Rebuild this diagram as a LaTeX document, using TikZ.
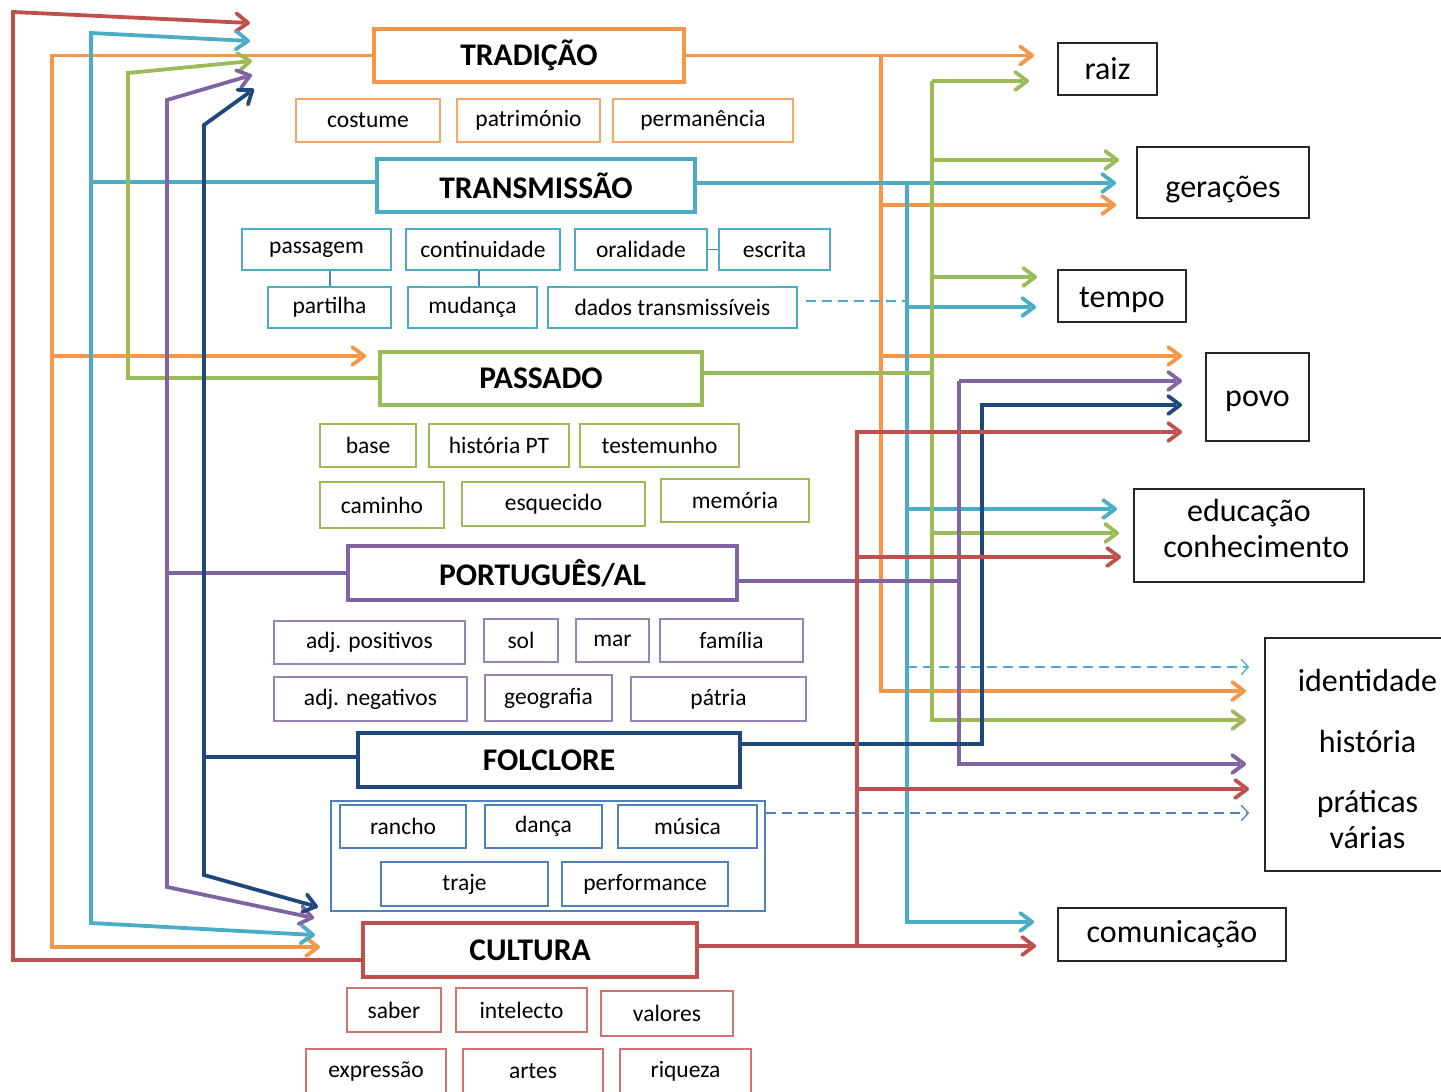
\documentclass[tikz,border=0pt]{standalone}
\usepackage{fontspec}
\setmainfont{Carlito}
\usetikzlibrary{arrows.meta}
\definecolor{cO}{HTML}{F79646}
\definecolor{cB}{HTML}{4BACC6}
\definecolor{cG}{HTML}{9BBB59}
\definecolor{cP}{HTML}{8064A2}
\definecolor{cN}{HTML}{1F497D}
\definecolor{cR}{HTML}{C0504D}
\definecolor{cF}{HTML}{4F81BD}
\newcommand\titlef{\fontsize{31.5}{36}\selectfont\bfseries}
\newcommand\subf{\fontsize{23.5}{28}\selectfont}
\newcommand\bigf{\fontsize{32}{36}\selectfont}
\pgfdeclarearrow{
  name = Chev,
  parameters = {\the\pgfarrowlength,\the\pgfarrowwidth,\the\pgfarrowlinewidth},
  setup code = {
    \pgfarrowssettipend{.5\pgfarrowlinewidth}
    \pgfarrowssetlineend{-\pgfarrowlinewidth}
    \pgfarrowssetbackend{-\pgfarrowlength}
    \pgfarrowssavethe\pgfarrowlength
    \pgfarrowssavethe\pgfarrowwidth
    \pgfarrowssavethe\pgfarrowlinewidth
  },
  drawing code = {
    \pgfsetdash{}{+0pt}
    \pgfsetroundcap
    \pgfsetroundjoin
    \pgfsetlinewidth{\pgfarrowlinewidth}
    \pgfpathmoveto{\pgfqpoint{-\pgfarrowlength}{.5\pgfarrowwidth}}
    \pgfpathlineto{\pgfpointorigin}
    \pgfpathlineto{\pgfqpoint{-\pgfarrowlength}{-.5\pgfarrowwidth}}
    \pgfusepathqstroke
  },
  defaults = {length=13pt, width=18pt, line width=+0pt 1}
}
\begin{document}
\begin{tikzpicture}[x=1pt,y=-1pt,
  >={Chev[length=12pt,width=18pt]},
  mb/.style={draw=#1, line width=3.8pt, inner sep=0pt, font=\titlef, minimum height=53},
  sb/.style={draw=#1, line width=1.5pt, inner sep=0pt, font=\subf},
  rb/.style={draw=black!85, line width=1.8pt, inner sep=0pt, font=\bigf, align=center},
  conn/.style={draw=#1, line width=3.8pt},
  thinl/.style={draw=#1, line width=1.3pt},
  dash/.style={draw=#1, line width=1.3pt, dash pattern=on 10pt off 6pt},
  thinarr/.style={-{Chev[length=7pt,width=15pt]}}
]
\useasboundingbox (0,0) rectangle (1441,1092);
\clip (0,0) rectangle (1441,1092);

% ---------- main boxes ----------
\node[mb=cO, minimum width=310] (trad) at (529,55.5) {TRADIÇÃO};
\node[mb=cB, minimum width=318] (trans) at (536,185.5) {TRANSMISSÃO};
\node[mb=cG, minimum width=322] (pass) at (541,378.5) {PASSADO};
\node[mb=cP, minimum width=389, minimum height=54] (port) at (542.5,573) {PORTUGUÊS/AL};
\node[mb=cN, minimum width=382, minimum height=54] (folc) at (549,760) {FOLCLORE};
\node[mb=cR, minimum width=334, minimum height=54] (cult) at (530,950) {CULTURA};

% ---------- sub boxes ----------
\node[sb=cO!85, minimum width=144, minimum height=43] (costume) at (368,120.5) {costume};
\node[sb=cO!85, minimum width=143, minimum height=43] (patrim) at (528.5,120.5) {património};
\node[sb=cO!85, minimum width=180, minimum height=43] (perman) at (703,120.5) {permanência};

\node[sb=cB, minimum width=149, minimum height=41] (passagem) at (316.5,249.5) {passagem};
\node[sb=cB, minimum width=154, minimum height=41] (contin) at (483,249.5) {continuidade};
\node[sb=cB, minimum width=132, minimum height=41] (oral) at (641,249.5) {oralidade};
\node[sb=cB, minimum width=111, minimum height=41] (escrita) at (774.5,249.5) {escrita};
\node[sb=cB, minimum width=123, minimum height=41] (partilha) at (329.5,307.5) {partilha};
\node[sb=cB, minimum width=129, minimum height=41] (mudanca) at (472.5,307.5) {mudança};
\node[sb=cB, minimum width=249, minimum height=41] (dados) at (672.5,307.5) {dados transmissíveis};

\node[sb=cG, minimum width=96, minimum height=43] (base) at (368,445.5) {base};
\node[sb=cG, minimum width=140, minimum height=43] (histpt) at (499,445.5) {história PT};
\node[sb=cG, minimum width=159, minimum height=43] (testem) at (659.5,445.5) {testemunho};
\node[sb=cG, minimum width=124, minimum height=46] (caminho) at (382,505) {caminho};
\node[sb=cG, minimum width=183, minimum height=44] (esquec) at (553.5,504) {esquecido};
\node[sb=cG, minimum width=148, minimum height=43] (memoria) at (735,500.5) {memória};

\node[sb=cP!80, minimum width=191, minimum height=43] (adjpos) at (369.5,642.5) {adj. positivos};
\node[sb=cP!80, minimum width=74, minimum height=43] (sol) at (521,640.5) {sol};
\node[sb=cP!80, minimum width=73, minimum height=43] (mar) at (612.5,640.5) {mar};
\node[sb=cP!80, minimum width=143, minimum height=43] (familia) at (731.5,640.5) {família};
\node[sb=cP!80, minimum width=193, minimum height=44] (adjneg) at (370.5,699) {adj. negativos};
\node[sb=cP!80, minimum width=127, minimum height=46] (geog) at (548.5,698) {geografia};
\node[sb=cP!80, minimum width=175, minimum height=44] (patria) at (718.5,699) {pátria};

\node[sb=cF, minimum width=434, minimum height=110] (cont) at (548,856) {};
\node[sb=cF, minimum width=126, minimum height=43] (rancho) at (403,826.5) {rancho};
\node[sb=cF, minimum width=117, minimum height=43] (danca) at (543.5,826.5) {dança};
\node[sb=cF, minimum width=139, minimum height=43] (musica) at (687.5,826.5) {música};
\node[sb=cF, minimum width=167, minimum height=44] (traje) at (464.5,884) {traje};
\node[sb=cF, minimum width=166, minimum height=44] (perf) at (645,884) {performance};

\node[sb=cR!80, minimum width=94, minimum height=44] (saber) at (394,1010) {saber};
\node[sb=cR!80, minimum width=131, minimum height=44] (intel) at (521.5,1010) {intelecto};
\node[sb=cR!80, minimum width=132, minimum height=45] (valores) at (667,1013.5) {valores};
\node[sb=cR!80, minimum width=140, minimum height=45] (expr) at (376,1071.5) {expressão};
\node[sb=cR!80, minimum width=140, minimum height=45] (artes) at (533,1071.5) {artes};
\node[sb=cR!80, minimum width=131, minimum height=45] (riqueza) at (685.5,1071.5) {riqueza};

% ---------- right boxes ----------
\node[rb, minimum width=99, minimum height=52] (raiz) at (1107.5,69) {raiz};
\node[rb, minimum width=172, minimum height=71, text height=35pt] (ger) at (1223,182.5) {gerações};
\node[rb, minimum width=128, minimum height=52, text height=28pt] (tempo) at (1122,296) {tempo};
\node[rb, minimum width=103, minimum height=88, text height=24pt] (povo) at (1257.5,397) {povo};
\node[rb, minimum width=230, minimum height=93] (educ) at (1249,535.5) {educação\\\ \ conhecimento\\[-22pt]};
\node[rb, minimum width=205, minimum height=233] (ident) at (1367.5,754.5) {\mbox{}\\[-5pt]identidade\\[25pt]história\\[24pt]práticas\\[0pt]várias};
\node[rb, minimum width=228, minimum height=53] (comun) at (1172,934.5) {comunicação};

% ---------- small connectors ----------
\draw[thinl=cF] (passagem.south -| 330,0) -- (partilha.north -| 330,0);
\draw[thinl=cF] (contin.south -| 479,0) -- (mudanca.north -| 479,0);
\draw[thinl=cF] (oral.east) -- (escrita.west);

% ---------- left side ----------
\coordinate (tR) at (250,23);
\coordinate (tB) at (250,41);
\coordinate (tG) at (252,61);
\coordinate (tP) at (252,75);
\coordinate (tN) at (254,89);
\coordinate (bN) at (318,907);
\coordinate (bP) at (314,918);
\coordinate (bB) at (315,935);
\coordinate (bO) at (320,947);

\draw[conn=cR, ->] (cult.west |- 0,960) -- (13,960) -- (13,12) -- (tR);
\draw[conn=cO, ->] (trad.west) -- (52,55.5) -- (52,947) -- (bO);
\draw[conn=cO, ->, shorten >=12pt] (52,356) -- (pass.west |- 0,356);
\draw[conn=cB, <->] (tB) -- (91,33) -- (91,923) -- (bB);
\draw[conn=cB] (trans.west |- 0,182) -- (91,182);
\draw[conn=cG, ->] (pass.west |- 0,378) -- (128,378) -- (128,73) -- (tG);
\draw[conn=cP, <->] (tP) -- (167,100) -- (167,887) -- (bP);
\draw[conn=cP] (port.west) -- (167,573);
\draw[conn=cN, <->] (tN) -- (204,125) -- (204,875) -- (bN);
\draw[conn=cN] (folc.west |- 0,757) -- (204,757);

% ---------- right side ----------
% orange
\draw[conn=cO, ->, shorten >=18pt] (881,55.5) -- (881,691) -- (ident.west |- 0,691);
\draw[conn=cO, ->, shorten >=23pt] (trad.east) -- (raiz.west |- trad.east);
\draw[conn=cO, ->, shorten >=20pt] (881,205) -- (ger.west |- 0,205);
\draw[conn=cO, ->, shorten >=23pt] (881,356) -- (povo.west |- 0,356);
% blue
\draw[conn=cB, ->, shorten >=20pt] (trans.east |- 0,183) -- (ger.west |- 0,183);
\draw[conn=cB, ->, shorten >=23pt] (907,183) -- (907,922) -- (comun.west |- 0,922);
\draw[conn=cB, ->, shorten >=21pt] (907,307) -- (tempo.west |- 0,307);
\draw[conn=cB, ->, shorten >=16pt] (907,509) -- (educ.west |- 0,509);
\draw[dash=cB, thinarr, shorten >=15pt] (907,667) -- (ident.west |- 0,667);
\draw[dash=cB, shorten <=8pt] (dados.east |- 0,301) -- (905,301);
% green
\draw[conn=cG] (pass.east |- 0,373) -- (932,373);
\draw[conn=cG, ->, shorten >=18pt] (932,81) -- (932,720) -- (ident.west |- 0,720);
\draw[conn=cG, ->, shorten >=28pt] (932,81) -- (raiz.west |- 0,81);
\draw[conn=cG, ->, shorten >=17pt] (932,160) -- (ger.west |- 0,160);
\draw[conn=cG, ->, shorten >=20pt] (932,277) -- (tempo.west |- 0,277);
\draw[conn=cG, ->, shorten >=14pt] (932,533) -- (educ.west |- 0,533);
% purple
\draw[conn=cP] (port.east |- 0,581) -- (959,581);
\draw[conn=cP, ->, shorten >=18pt] (959,381) -- (959,764) -- (ident.west |- 0,764);
\draw[conn=cP, ->, shorten >=23pt] (959,381) -- (povo.west |- 0,381);
% navy
\draw[conn=cN, ->, shorten >=23pt] (folc.east |- 0,744) -- (982,744) -- (982,405) -- (povo.west |- 0,405);
% red
\draw[conn=cR, ->, shorten >=21pt] (cult.east |- 0,946) -- (comun.west |- 0,946);
\draw[conn=cR, ->, shorten >=23pt] (857,946) -- (857,432) -- (povo.west |- 0,432);
\draw[conn=cR, ->, shorten >=12pt] (857,557) -- (educ.west |- 0,557);
\draw[conn=cR, ->, shorten >=15pt] (857,789) -- (ident.west |- 0,789);
% folclore dashed
\draw[dash=cF, thinarr, shorten >=15pt] (cont.east |- 0,813) -- (ident.west |- 0,813);
\end{tikzpicture}
\end{document}
